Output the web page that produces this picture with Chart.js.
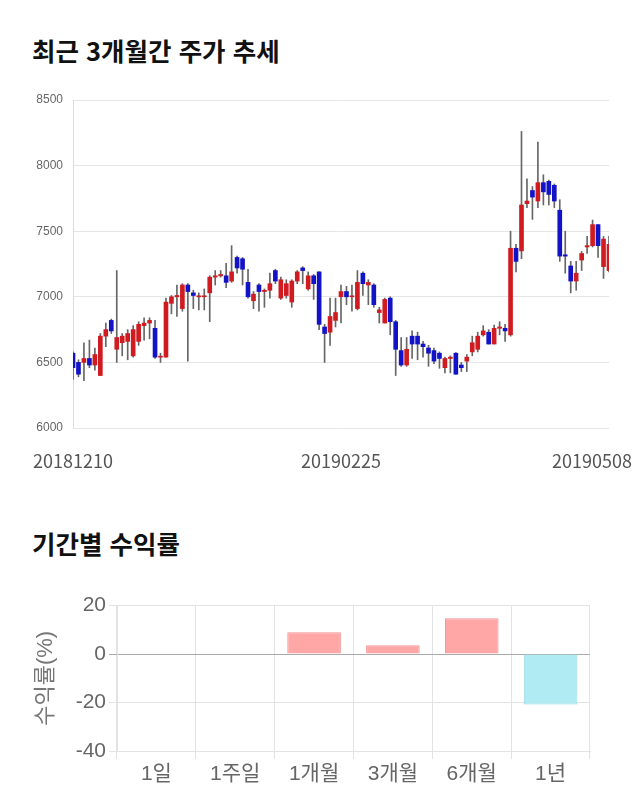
<!DOCTYPE html>
<html lang="ko">
<head>
<meta charset="utf-8">
<script src="https://cdn.jsdelivr.net/npm/chart.js@4"></script>
<style>
  body { margin: 0; background: #fff; width: 640px; height: 810px; overflow: hidden; font-family: 'Noto Sans CJK KR', sans-serif; }
  h2 { position: absolute; left: 32px; margin: 0; font-size: 25.5px; font-weight: bold; color: #111; }
  .box { position: absolute; left: 0; width: 640px; }
</style>
</head>
<body>
<h2 style="top:31px">최근 3개월간 주가 추세</h2>
<div class="box" style="top:80px;height:400px"><canvas id="priceChart"></canvas></div>
<h2 style="top:524px">기간별 수익률</h2>
<div class="box" style="top:590px;height:220px"><canvas id="returnChart"></canvas></div>
<script>
// 일별 시세 (2018.12.10 ~ 2019.05.08)
const dates = [
  '20181210','20181211','20181212','20181213','20181214','20181217','20181218','20181219','20181220','20181221',
  '20181224','20181226','20181227','20181228',
  '20190102','20190103','20190104','20190107','20190108','20190109','20190110','20190111','20190114','20190115',
  '20190116','20190117','20190118','20190121','20190122','20190123','20190124','20190125','20190128','20190129',
  '20190130','20190131',
  '20190201','20190207','20190208','20190211','20190212','20190213','20190214','20190215','20190218','20190219',
  '20190220','20190221','20190222','20190225','20190226','20190227','20190228',
  '20190304','20190305','20190306','20190307','20190308','20190311','20190312','20190313','20190314','20190315',
  '20190318','20190319','20190320','20190321','20190322','20190325','20190326','20190327','20190328','20190329',
  '20190401','20190402','20190403','20190404','20190405','20190408','20190409','20190410','20190411','20190412',
  '20190415','20190416','20190417','20190418','20190419','20190422','20190423','20190424','20190425','20190426',
  '20190429','20190430',
  '20190502','20190503','20190507','20190508'
];
const opens = [
  6570,6500,6500,6530,6480,6400,6700,6820,6600,6650,6660,6550,6660,6780,6800,6760,6540,6540,6950,7000,
  6910,7090,7030,7000,7000,7030,7150,7160,7160,7120,7300,7290,7110,6970,7090,7040,7050,7200,6990,7010,
  6960,7120,7220,7060,7160,7190,6770,6730,6820,7000,7040,7000,6910,7180,7090,7090,6880,6800,6990,6810,
  6590,6480,6700,6700,6640,6610,6590,6570,6460,6530,6570,6480,6510,6580,6600,6710,6730,6640,6760,6760,
  6710,7370,7350,7710,7810,7730,7870,7880,7850,7660,7320,7235,7120,7280,7380,7390,7550,7230,7200
];
const highs = [
  6580,6520,6650,6670,6610,6720,6800,6830,7200,6720,6750,6780,6810,6840,6840,6820,6570,6990,7010,7090,
  7100,7100,7050,7030,7060,7160,7200,7200,7255,7390,7310,7300,7210,7040,7100,7060,7180,7210,7150,7130,
  7130,7200,7230,7190,7170,7190,6790,6990,6990,7090,7080,7090,7200,7190,7130,7100,6920,6990,7000,6820,
  6690,6690,6740,6730,6660,6630,6610,6580,6540,6550,6575,6500,6560,6700,6730,6780,6750,6785,6810,6790,
  7500,7400,8260,7900,7840,8180,7930,7890,7860,7740,7500,7270,7270,7345,7460,7585,7550,7460,7460
];
const lows = [
  6370,6390,6360,6460,6440,6400,6620,6720,6500,6550,6520,6540,6630,6670,6680,6530,6500,6540,6870,6850,
  6890,6510,6910,6900,6900,6810,7090,7150,7070,7110,7180,7090,6990,6910,6890,6920,6990,7100,6980,6990,
  6920,7100,7100,7050,6980,6750,6500,6630,6770,6800,6940,6890,6900,7010,6940,6920,6800,6800,6710,6400,
  6470,6470,6530,6520,6540,6470,6490,6455,6420,6420,6410,6430,6430,6550,6580,6700,6640,6640,6710,6660,
  6700,7190,7290,7680,7590,7680,7700,7700,7680,7270,7180,7030,7050,7200,7330,7380,7300,7140,7190
];
const closes = [
  6460,6410,6530,6480,6560,6700,6750,6740,6690,6700,6720,6750,6790,6800,6820,6540,6545,6960,7000,7010,
  7090,7040,7010,7000,7000,7150,7160,7170,7110,7190,7220,7210,7000,7020,7040,7050,7100,7120,7130,7100,
  7120,7190,7200,7160,7100,6790,6720,6850,6880,7040,7000,7005,7110,7100,7110,6940,6900,6980,6810,6600,
  6480,6600,6640,6640,6620,6570,6510,6530,6530,6540,6410,6460,6540,6650,6700,6740,6640,6760,6770,6740,
  7370,7270,7700,7730,7760,7870,7800,7780,7730,7310,7310,7120,7180,7330,7390,7550,7390,7440,7400
];
const shownDates = ['20181210', '20190225', '20190508'];
const priceTicks = [6000, 6500, 7000, 7500, 8000, 8500];

// 기간별 수익률
const periods = ['1일', '1주일', '1개월', '3개월', '6개월', '1년'];
const returns = [0, 0, 9.0, 3.6, 14.8, -20.8];
const returnTicks = [-40, -20, 0, 20];

const upColor = '#d01c21';
const downColor = '#1212c6';

const bodyData = dates.map((d, i) => [Math.min(opens[i], closes[i]), Math.max(opens[i], closes[i])]);
const wickData = dates.map((d, i) => [lows[i], highs[i]]);
const candleColors = dates.map((d, i) => closes[i] >= opens[i] ? upColor : downColor);

// 날짜 라벨: 캔버스 밖으로 나가지 않게 안쪽으로 맞춤
const dateLabels = {
  id: 'dateLabels',
  afterDraw(chart) {
    const ctx = chart.ctx;
    const xs = chart.scales.x;
    ctx.save();
    ctx.font = '18px "Noto Sans CJK KR", sans-serif';
    ctx.fillStyle = '#555';
    ctx.textAlign = 'center';
    ctx.textBaseline = 'middle';
    shownDates.forEach(d => {
      const w = ctx.measureText(d).width;
      let x = xs.getPixelForValue(dates.indexOf(d));
      x = Math.min(Math.max(x, w / 2 + 8), chart.width - w / 2 - 8);
      ctx.fillText(d, x, chart.chartArea.bottom + 33);
    });
    ctx.restore();
  }
};

new Chart(document.getElementById('priceChart'), {
  type: 'bar',
  data: {
    labels: dates,
    datasets: [
      {
        data: bodyData,
        backgroundColor: candleColors,
        borderWidth: 0,
        barThickness: 4,
        minBarLength: 1,
        grouped: false,
        order: 0
      },
      {
        data: wickData,
        backgroundColor: '#666',
        borderWidth: 0,
        barThickness: 1,
        grouped: false,
        order: 1
      }
    ]
  },
  options: {
    responsive: true,
    maintainAspectRatio: false,
    animation: false,
    layout: { padding: { top: 20, right: 31, bottom: 52, left: 0 } },
    plugins: { legend: { display: false }, tooltip: { enabled: false } },
    scales: {
      x: {
        offset: false,
        afterFit: s => { s.height = 0; },
        grid: { display: false },
        border: { display: false },
        ticks: { display: false }
      },
      y: {
        min: 6000,
        max: 8500,
        afterBuildTicks: s => { s.ticks = priceTicks.map(v => ({ value: v })); },
        afterFit: s => { s.width = 73; },
        ticks: {
          font: { size: 12, family: "'Liberation Sans', Arial, sans-serif" },
          color: '#666',
          padding: 10,
          callback: v => String(v)
        },
        grid: { color: '#e6e6e6', drawTicks: false },
        border: { color: '#dcdcdc' }
      }
    }
  },
  plugins: [dateLabels]
});

new Chart(document.getElementById('returnChart'), {
  type: 'bar',
  data: {
    labels: periods,
    datasets: [{
      data: returns,
      backgroundColor: returns.map(v => v >= 0 ? '#ffa6a6' : '#b0eaf2'),
      borderColor: returns.map(v => v >= 0 ? '#f29393' : '#98d6e0'),
      borderWidth: 1,
      categoryPercentage: 1,
      barPercentage: 0.68
    }]
  },
  options: {
    responsive: true,
    maintainAspectRatio: false,
    animation: false,
    layout: { padding: { top: 15, right: 50, bottom: 0, left: 0 } },
    plugins: { legend: { display: false }, tooltip: { enabled: false } },
    scales: {
      x: {
        afterFit: s => { s.height = 59; },
        ticks: { font: { size: 21, family: "'Liberation Sans', 'Noto Sans CJK KR', sans-serif" }, color: '#666', padding: 3 },
        grid: { color: '#e3e3e3', tickLength: 8 },
        border: { color: '#e3e3e3' }
      },
      y: {
        min: -40,
        max: 20,
        afterBuildTicks: s => { s.ticks = returnTicks.map(v => ({ value: v })); },
        afterFit: s => { s.width = 117; },
        ticks: { font: { size: 21, family: "'Liberation Sans', Arial, sans-serif" }, color: '#666', padding: 3 },
        grid: {
          color: c => c.tick && c.tick.value === 0 ? '#aaaaaa' : '#e3e3e3',
          tickLength: 8
        },
        border: { color: '#e3e3e3' },
        title: {
          display: true,
          text: '수익률(%)',
          color: '#777',
          font: { size: 22, family: "'Liberation Sans', 'Noto Sans CJK KR', sans-serif" },
          padding: { top: 33, bottom: 0 }
        }
      }
    }
  }
});
</script>
</body>
</html>
